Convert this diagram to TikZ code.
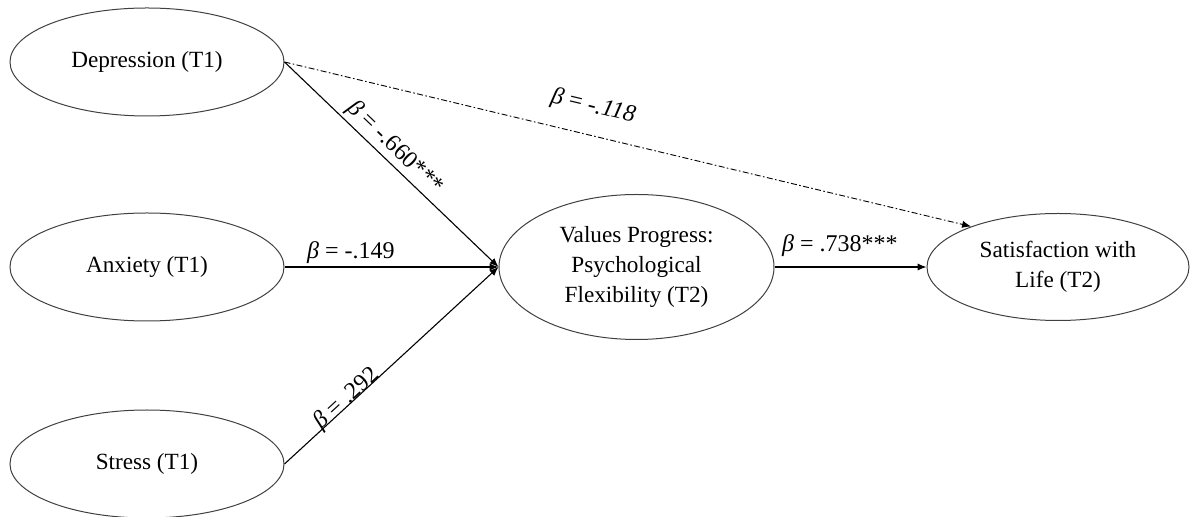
\documentclass[tikz,border=0pt]{standalone}
\usepackage{fontspec}
\setmainfont{Liberation Serif}
\usepackage{tikz}
\usetikzlibrary{positioning}
\usetikzlibrary{shapes.geometric}
\usetikzlibrary{arrows.meta}

\begin{document}
\begin{tikzpicture}[ovalnode/.style={ellipse, draw=black!75, line width=0.5pt, inner sep=0pt, minimum width=137pt, minimum height=54pt, align=center, font=\fontsize{11.6}{15}\selectfont},
    path/.style={-{Latex[length=4.5pt,width=3.6pt]}, line width=0.55pt},
    beta/.style={font=\fontsize{12}{14}\selectfont, inner sep=1.5pt, sloped}]
    \useasboundingbox (-73.5pt,31pt) rectangle (522.5pt,-227.5pt);
    %Nodes
    % Time 1
    \node[ovalnode] (depression) at (0,0) {Depression (T1)};
    \node[ovalnode] (anxiety) [below=48pt of depression] {Anxiety (T1)};
    \node[ovalnode] (stress) [below=44pt of anxiety] {Stress (T1)};
    % Time 2
    \node[ovalnode, minimum width=137.5pt, minimum height=72.5pt] (values) [right=107pt of anxiety] {Values Progress:\\Psychological\\Flexibility (T2)};
    \node[ovalnode, minimum width=131pt, minimum height=53.5pt] (satisfaction) [right=76pt of values] {Satisfaction with\\Life (T2)};

    \draw[path] (depression.east) -- node[beta, above, pos=0.47] {\textit{β} = -.660***} (values.west);
    \draw[path] (anxiety.east) -- node[beta, above, pos=0.31] {\textit{β} = -.149} (values.west);
    \draw[path] (stress.east) -- node[beta, anchor=base, pos=0.31] {\textit{β} = .292} (values.west);
    \draw[path] (values.east) -- node[beta, above=3.5pt, pos=0.43] {\textit{β} = .738***} (satisfaction.west);
    \draw[path, line width=0.45pt, dash pattern=on 3pt off 1.2pt on 0.8pt off 1.2pt] (depression.east) -- node[beta, above=7pt, pos=0.44] {\textit{β} = \textit{-.118}} (satisfaction.155); % Direct path

\end{tikzpicture}
\end{document}
